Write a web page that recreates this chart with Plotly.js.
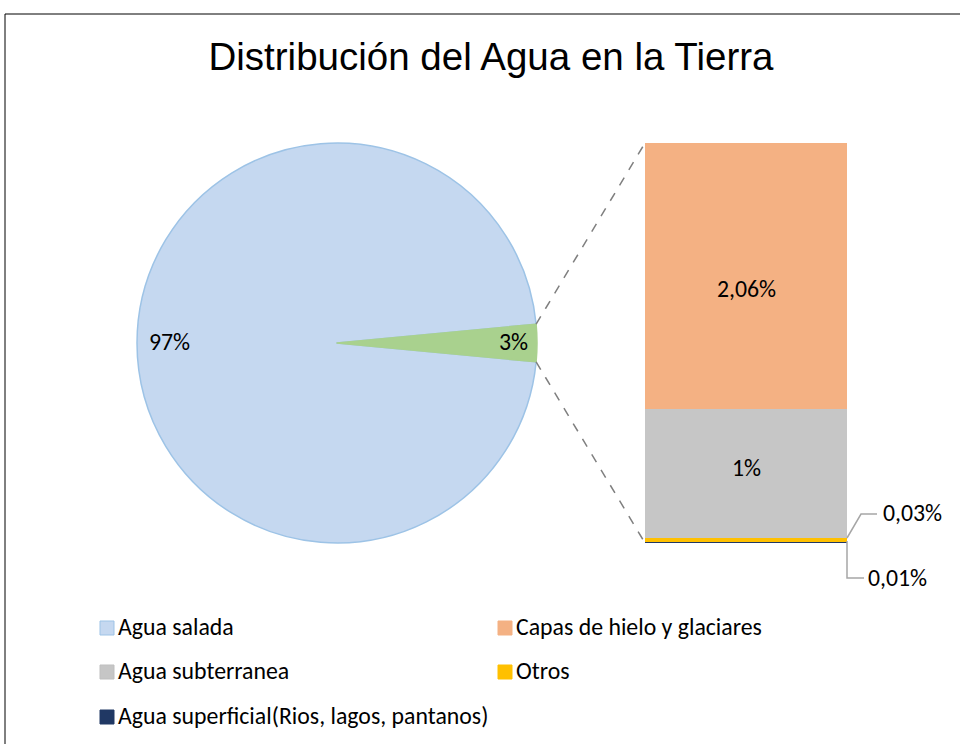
<!DOCTYPE html>
<html>
<head>
<meta charset="utf-8">
<script src="https://cdn.plot.ly/plotly-3.0.1.min.js"></script>
<style>html,body{margin:0;padding:0;background:#fff;}#chart{width:960px;height:744px;}</style>
</head>
<body>
<div id="chart"></div>
<script>
// ---- Data ----
const pieLabels = ["Agua salada", "Otros (agua dulce)"];
const pieValues = [97, 3];
const pieText = ["97%", "3%"];

const barCategory = ["Agua dulce"];
const barSeries = ["Agua superficial(Rios, lagos, pantanos)", "Otros", "Agua subterranea", "Capas de hielo y glaciares"];
const barValues = [0.01, 0.03, 1, 2.06];
const barText = ["0,01%", "0,03%", "1%", "2,06%"];

const legendOrder = ["Agua salada", "Capas de hielo y glaciares", "Agua subterranea", "Otros", "Agua superficial(Rios, lagos, pantanos)"];

const colors = {
  "Agua salada": "#C5D8F0",
  "Otros (agua dulce)": "#A9D18E",
  "Capas de hielo y glaciares": "#F4B183",
  "Agua subterranea": "#C6C6C6",
  "Otros": "#FFC000",
  "Agua superficial(Rios, lagos, pantanos)": "#203864"
};
const barLineWidth = [2, 0, 0, 0];

// ---- Layout helpers ----
const W = 960, H = 744;
const px = x => x / W;
const py = y => 1 - y / H;
const FONT = "Carlito, Lato, 'Open Sans', sans-serif";
const FS = 23.8;

const pieCx = 337, pieCy = 343, pieR = 200;
const barL = 645, barR = 847, barT = 143, barB = 543;
const total = barValues.reduce((a, b) => a + b, 0);

// pie rotation so that the small slice is centred at 3 o'clock
const smallDeg = pieValues[1] / (pieValues[0] + pieValues[1]) * 360;
const rotation = 90 + smallDeg / 2;

const traces = [];
traces.push({
  type: "pie",
  labels: pieLabels,
  values: pieValues,
  sort: false,
  direction: "clockwise",
  rotation: rotation,
  textinfo: "none",
  hoverinfo: "label+percent",
  showlegend: false,
  marker: {
    colors: pieLabels.map(l => colors[l]),
    line: {color: ["#9DC3E6", "#A9D18E"], width: 1.5}
  },
  domain: {x: [px(pieCx - pieR), px(pieCx + pieR)], y: [py(pieCy + pieR), py(pieCy - pieR)]}
});

barSeries.forEach((s, i) => {
  traces.push({
    type: "bar",
    x: barCategory,
    y: [barValues[i]],
    name: s,
    marker: {color: colors[s], line: {width: barLineWidth[i], color: colors[s]}},
    showlegend: false,
    hoverinfo: "name+y",
    xaxis: "x", yaxis: "y"
  });
});

const shapes = [];
const annotations = [];

// frame
shapes.push({type: "line", xref: "paper", yref: "paper", x0: px(5), x1: px(965), y0: py(14), y1: py(14), line: {color: "#000", width: 1}});
shapes.push({type: "line", xref: "paper", yref: "paper", x0: px(5), x1: px(5), y0: py(14), y1: py(760), line: {color: "#000", width: 1}});

// connector dashed lines from slice edge to bar corners
const half = smallDeg / 2 * Math.PI / 180;
const ex = pieCx + pieR * Math.cos(half);
const eyTop = pieCy - pieR * Math.sin(half);
const eyBot = pieCy + pieR * Math.sin(half);
shapes.push({type: "line", xref: "paper", yref: "paper", x0: px(ex), y0: py(eyTop), x1: px(barL), y1: py(barT), line: {color: "#7F7F7F", width: 1.5, dash: "dash"}});
shapes.push({type: "line", xref: "paper", yref: "paper", x0: px(ex), y0: py(eyBot), x1: px(barL), y1: py(barB), line: {color: "#7F7F7F", width: 1.5, dash: "dash"}});

// pie labels
annotations.push({xref: "paper", yref: "paper", x: px(169), y: py(pieCy - 1.5), text: pieText[0], showarrow: false, xanchor: "center", yanchor: "middle", font: {family: FONT, size: FS, color: "#000"}});
annotations.push({xref: "paper", yref: "paper", x: px(513), y: py(pieCy - 1.5), text: pieText[1], showarrow: false, xanchor: "center", yanchor: "middle", font: {family: FONT, size: FS, color: "#000"}});

// bar labels: large segments centred
annotations.push({xref: "x domain", yref: "paper", x: 0.5, y: py(288.5), text: barText[3], showarrow: false, font: {family: FONT, size: FS, color: "#000"}});
annotations.push({xref: "x domain", yref: "paper", x: 0.5, y: py(467.5), text: barText[2], showarrow: false, font: {family: FONT, size: FS, color: "#000"}});

// leader lines for tiny segments
const leaderColor = "#A6A6A6";
shapes.push({type: "path", xref: "paper", yref: "paper", path: `M ${px(barR)} ${py(538)} L ${px(861)} ${py(514)} L ${px(877)} ${py(514)}`, line: {color: leaderColor, width: 1.5}});
shapes.push({type: "path", xref: "paper", yref: "paper", path: `M ${px(barR)} ${py(541)} L ${px(barR)} ${py(578)} L ${px(864)} ${py(578)}`, line: {color: leaderColor, width: 1.5}});
annotations.push({xref: "paper", yref: "paper", x: px(881), y: py(512.5), text: barText[1], showarrow: false, xanchor: "left", yanchor: "middle", font: {family: FONT, size: FS, color: "#000"}});
annotations.push({xref: "paper", yref: "paper", x: px(866), y: py(577.5), text: barText[0], showarrow: false, xanchor: "left", yanchor: "middle", font: {family: FONT, size: FS, color: "#000"}});

// legend (two columns)
const colX = [100, 498];
const rowY = [628, 672, 717];
const legBorder = {
  "Agua salada": "#9DC3E6",
  "Capas de hielo y glaciares": "#F4B183",
  "Agua subterranea": "#BFBFBF",
  "Otros": "#FFC000",
  "Agua superficial(Rios, lagos, pantanos)": "#203864"
};
legendOrder.forEach((name, i) => {
  const cx = colX[i % 2], cy = rowY[Math.floor(i / 2)];
  shapes.push({type: "rect", xref: "paper", yref: "paper", x0: px(cx), x1: px(cx + 14), y0: py(cy - 7), y1: py(cy + 7), fillcolor: colors[name], line: {color: legBorder[name], width: 1}});
  annotations.push({xref: "paper", yref: "paper", x: px(cx + 16), y: py(cy - 1.5), text: name, showarrow: false, xanchor: "left", yanchor: "middle", font: {family: FONT, size: FS, color: "#000"}});
});

const layout = {
  width: W, height: H,
  margin: {l: 0, r: 0, t: 0, b: 0},
  paper_bgcolor: "#fff", plot_bgcolor: "rgba(0,0,0,0)",
  title: {text: "Distribución del Agua en la Tierra", x: px(491), xanchor: "center", y: py(57), yanchor: "middle", xref: "paper", yref: "paper", font: {family: "'Liberation Sans', Arial, sans-serif", size: 38.5, color: "#000"}},
  barmode: "stack",
  bargap: 0,
  showlegend: false,
  xaxis: {domain: [px(barL), px(barR)], visible: false, fixedrange: true},
  yaxis: {domain: [py(barB), py(barT)], range: [0, total], visible: false, fixedrange: true},
  shapes: shapes,
  annotations: annotations
};

Plotly.newPlot("chart", traces, layout, {displayModeBar: false, staticPlot: true});
</script>
</body>
</html>
